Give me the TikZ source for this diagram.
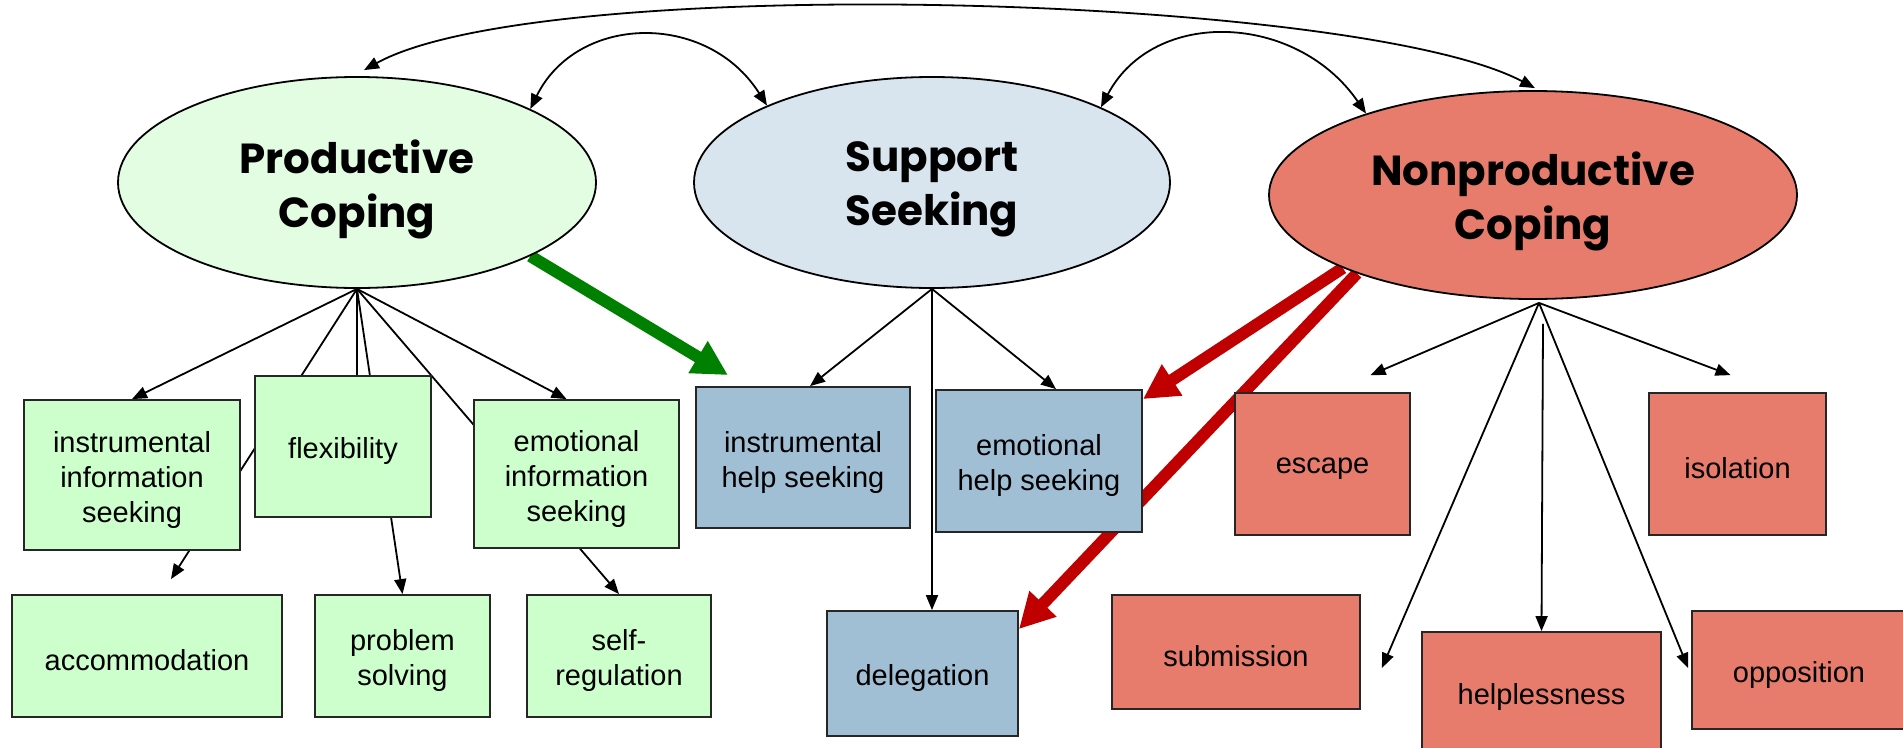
\documentclass[tikz,border=0pt]{standalone}
\usepackage{fontspec}
\setmainfont{Liberation Sans}
\newfontfamily\titlefont{Poppins}
\usetikzlibrary{shapes.geometric,arrows.meta,backgrounds}
\definecolor{pcfill}{RGB}{227,253,227}
\definecolor{greenbox}{RGB}{204,255,204}
\definecolor{ssfill}{RGB}{217,229,238}
\definecolor{bluebox}{RGB}{160,190,212}
\definecolor{redfill}{RGB}{231,124,108}
\definecolor{arrgreen}{RGB}{0,128,0}
\definecolor{arrred}{RGB}{192,0,0}
\begin{document}
\begin{tikzpicture}[x=1pt,y=-1pt,
  ell/.style={ellipse,draw=black,line width=1.8pt,inner sep=0pt},
  ttext/.style={align=center,inner sep=0pt,yshift=-6.5pt,
    font=\titlefont\bfseries\fontsize{42}{54}\selectfont},
  box/.style={rectangle,draw=black!85,line width=1.8pt,inner sep=0pt},
  btext/.style={align=center,inner sep=0pt,yshift=-4.5pt,
    font=\fontsize{29}{35}\selectfont},
  gbox/.style={box,fill=greenbox},
  bbox/.style={box,fill=bluebox},
  rbox/.style={box,fill=redfill},
  thinarrow/.style={line width=1.8pt,-{Triangle[length=15pt,width=12pt]}},
  dblarrow/.style={line width=1.8pt,{Triangle[length=15pt,width=12pt]}-{Triangle[length=15pt,width=12pt]}},
  thickgreen/.style={line width=12pt,draw=arrgreen,-{Triangle[length=35pt,width=35pt]}},
  thickred/.style={line width=12pt,draw=arrred,-{Triangle[length=35pt,width=35pt]}}]
\useasboundingbox (0,0) rectangle (1903,747);

% ellipses
\node[ell,fill=pcfill,minimum width=478pt,minimum height=211pt,
  label={[ttext]center:{Productive\\Coping}}] (pc) at (357,182.5) {};
\node[ell,fill=ssfill,minimum width=476pt,minimum height=211pt,
  label={[ttext]center:{Support\\Seeking}}] (ss) at (932,182.5) {};
\node[ell,fill=redfill,minimum width=528pt,minimum height=208pt,
  label={[ttext]center:{Nonproductive\\Coping}}] (np) at (1533,195) {};

% green boxes
\node[gbox,minimum width=216pt,minimum height=150pt,
  label={[btext]center:{instrumental\\information\\seeking}}] (iis) at (132,475) {};
\node[gbox,minimum width=176pt,minimum height=141pt,
  label={[btext]center:{flexibility}}] (flex) at (343,446.5) {};
\node[gbox,minimum width=205pt,minimum height=148pt,
  label={[btext]center:{emotional\\information\\seeking}}] (eis) at (576.5,474) {};
\node[gbox,minimum width=270pt,minimum height=122pt,
  label={[btext]center:{accommodation}}] (acc) at (147,656) {};
\node[gbox,minimum width=175pt,minimum height=122pt,
  label={[btext]center:{problem\\solving}}] (ps) at (402.5,656) {};
\node[gbox,minimum width=184pt,minimum height=122pt,
  label={[btext]center:{self-\\regulation}}] (sr) at (619,656) {};

% blue boxes
\node[bbox,minimum width=214pt,minimum height=141pt,
  label={[btext]center:{instrumental\\help seeking}}] (ihs) at (803,457.5) {};
\node[bbox,minimum width=206pt,minimum height=142pt,
  label={[btext]center:{emotional\\help seeking}}] (ehs) at (1039,461) {};
\node[bbox,minimum width=191pt,minimum height=125pt,
  label={[btext]center:{delegation}}] (del) at (922.5,673.5) {};

% red boxes
\node[rbox,minimum width=175pt,minimum height=142pt,
  label={[btext]center:{escape}}] (esc) at (1322.5,464) {};
\node[rbox,minimum width=177pt,minimum height=142pt,
  label={[btext]center:{isolation}}] (iso) at (1737.5,464) {};
\node[rbox,minimum width=248pt,minimum height=114pt,
  label={[btext]center:{submission}}] (sub) at (1236,652) {};
\node[rbox,minimum width=239pt,minimum height=120pt,
  label={[btext]center:{helplessness}}] (help) at (1541.5,692) {};
\node[rbox,minimum width=214pt,minimum height=118pt,
  label={[btext]center:{opposition}}] (opp) at (1799,670) {};

\coordinate (npf) at ([xshift=6pt,yshift=-3pt]np.south);

\begin{scope}[on background layer]
  % productive coping fan
  \draw[thinarrow] (pc.south) -- (iis.north);
  \draw[thinarrow] (pc.south) -- (pc.south |- flex.center);
  \draw[thinarrow] (pc.south) -- ([xshift=24pt,yshift=15pt]acc.north);
  \draw[thinarrow] (pc.south) -- (ps.north);
  \draw[thinarrow] (pc.south) -- ([xshift=-10pt]eis.north);
  \draw[thinarrow] (pc.south) -- (sr.north);
  % support seeking fan
  \draw[thinarrow] (ss.south) -- ([xshift=7pt]ihs.north);
  \draw[thinarrow] (ss.south) -- (ss.south |- del.north);
  \draw[thinarrow] (ss.south) -- ([xshift=17pt]ehs.north);
  % nonproductive fan
  \draw[thinarrow] (npf) -- ([xshift=48pt,yshift=17pt]esc.north);
  \draw[thinarrow] (npf) -- ([xshift=-7pt,yshift=17pt]iso.north);
  \draw[thinarrow] (npf) -- ([xshift=21pt,yshift=-16pt]sub.east);
  \draw[thinarrow] ([xshift=4pt,yshift=-21pt]npf) -- (help.north);
  \draw[thinarrow] (npf) -- ([xshift=-3pt,yshift=2pt]opp.west);
  % thick arrows
  \draw[thickgreen] (pc.-23.7) -- ([xshift=-75pt,yshift=11pt]ihs.north);
  \draw[thickred] (np.201.9) -- ([yshift=-10pt]ehs.north east);
  \draw[thickred] (np.204) -- ([yshift=-19pt]del.north east);
\end{scope}

% top arcs
\draw[dblarrow] ([xshift=7pt,yshift=6pt]pc.north) .. controls (541,-28) and (1357,-6) .. ([xshift=2pt,yshift=2pt]np.north);
\draw[dblarrow] (pc.23.8) .. controls (577,14) and (707,11) .. (ss.155.2);
\draw[dblarrow] (ss.24.2) .. controls (1154,7) and (1297,13) .. (np.154.8);
\end{tikzpicture}
\end{document}
